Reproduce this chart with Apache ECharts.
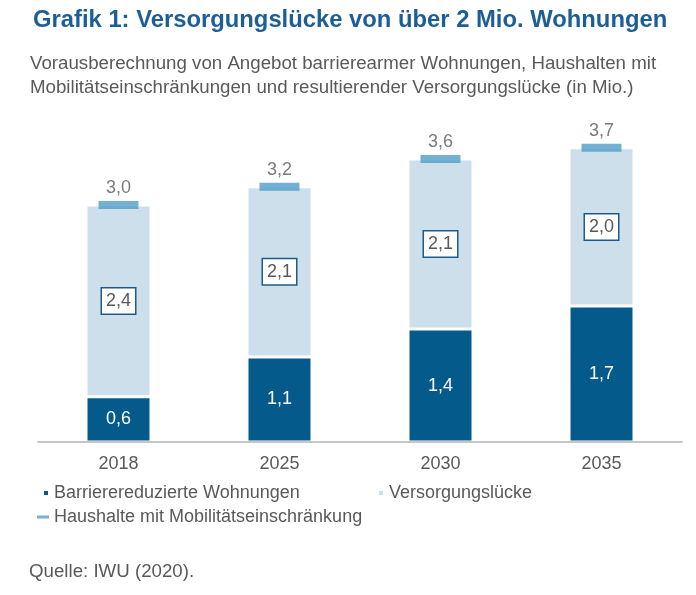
<!DOCTYPE html>
<html>
<head>
<meta charset="utf-8">
<script src="https://cdn.jsdelivr.net/npm/echarts@6/dist/echarts.min.js"></script>
<style>
html,body{margin:0;padding:0;background:#fff;}
#c{width:696px;height:595px;}
</style>
</head>
<body>
<div id="c"></div>
<script>
const categories = ['2018', '2025', '2030', '2035'];
const barriere = [0.57, 1.07, 1.42, 1.71];
const luecke = [2.41, 2.14, 2.14, 1.99];
const haushalte = [2.98, 3.21, 3.56, 3.70];
const seriesNames = ['Barrierereduzierte Wohnungen', 'Versorgungslücke', 'Haushalte mit Mobilitätseinschränkung'];
const titleText = 'Grafik 1: Versorgungslücke von über 2 Mio. Wohnungen';
const subtitleLines = ['Vorausberechnung von Angebot barrierearmer Wohnungen, Haushalten mit',
  'Mobilitätseinschränkungen und resultierender Versorgungslücke (in Mio.)'];
const sourceText = 'Quelle: IWU (2020).';

const FONT = '"Liberation Sans", Arial, sans-serif';
const GRAY = '#595959';
const DARK = '#035a8b';
const LIGHT = '#cddfea';
const MARK = '#4f9dc8';
const FS = 18;
const fmt = p => p.value.toFixed(1).replace('.', ',');

const chart = echarts.init(document.getElementById('c'), null, {renderer: 'canvas'});
const legendText = {fontSize: FS, color: GRAY, fontFamily: FONT, lineHeight: 20};
chart.setOption({
  animation: false,
  backgroundColor: '#fff',
  textStyle: {fontFamily: FONT},
  graphic: [
    {type: 'text', x: 33, y: 20, style: {text: titleText, font: 'bold 23.8px ' + FONT, fill: '#1b5e98', verticalAlign: 'middle'}},
    {type: 'text', x: 30, y: 64, style: {text: subtitleLines[0], font: '18.7px ' + FONT, fill: GRAY, verticalAlign: 'middle'}},
    {type: 'text', x: 30, y: 88, style: {text: subtitleLines[1], font: '18.7px ' + FONT, fill: GRAY, verticalAlign: 'middle'}},
    {type: 'text', x: 29, y: 572, style: {text: sourceText, font: '18.7px ' + FONT, fill: GRAY, verticalAlign: 'middle'}}
  ],
  legend: [
    {data: [{name: seriesNames[0], icon: 'rect'}], left: 42, top: 483, padding: 0, itemWidth: 6, itemHeight: 6,
      textStyle: legendText, selectedMode: false},
    {data: [{name: seriesNames[1], icon: 'rect'}], left: 377, top: 483, padding: 0, itemWidth: 6, itemHeight: 6,
      textStyle: legendText, selectedMode: false},
    {data: [{name: seriesNames[2], icon: 'rect'}], left: 37, top: 507, padding: 0, itemWidth: 12, itemHeight: 3,
      textStyle: legendText, selectedMode: false}
  ],
  grid: {left: 38, right: 14, top: 124, bottom: 153, containLabel: false},
  xAxis: {
    type: 'category', data: categories, z: 5,
    axisTick: {show: false},
    axisLine: {lineStyle: {color: '#c6c6c6', width: 2}},
    axisLabel: {margin: 12, fontSize: FS, color: GRAY, fontFamily: FONT, lineHeight: 20}
  },
  yAxis: {type: 'value', min: 0, max: 4, show: false, splitLine: {show: false}},
  series: [
    {
      name: seriesNames[0], type: 'bar', stack: 'total', data: barriere, barWidth: 65,
      itemStyle: {color: DARK, borderColor: '#fff', borderWidth: 1.5},
      label: {show: true, position: 'inside', formatter: fmt, color: '#fff', fontSize: FS, fontFamily: FONT}
    },
    {
      name: seriesNames[1], type: 'bar', stack: 'total', data: luecke, barWidth: 65,
      itemStyle: {color: LIGHT, borderColor: '#fff', borderWidth: 1.5},
      label: {show: true, position: 'inside', formatter: fmt, color: GRAY, fontSize: FS, fontFamily: FONT,
        backgroundColor: '#fff', borderColor: '#1d5a8a', borderWidth: 1.5, padding: [3, 4, 2, 4], lineHeight: 20}
    },
    {
      name: seriesNames[2], type: 'scatter', data: haushalte, symbol: 'rect', symbolSize: [40, 8], z: 4,
      itemStyle: {color: MARK},
      label: {show: true, position: 'top', distance: 4, formatter: fmt, color: GRAY, fontSize: FS, fontFamily: FONT}
    }
  ]
});
</script>
</body>
</html>
